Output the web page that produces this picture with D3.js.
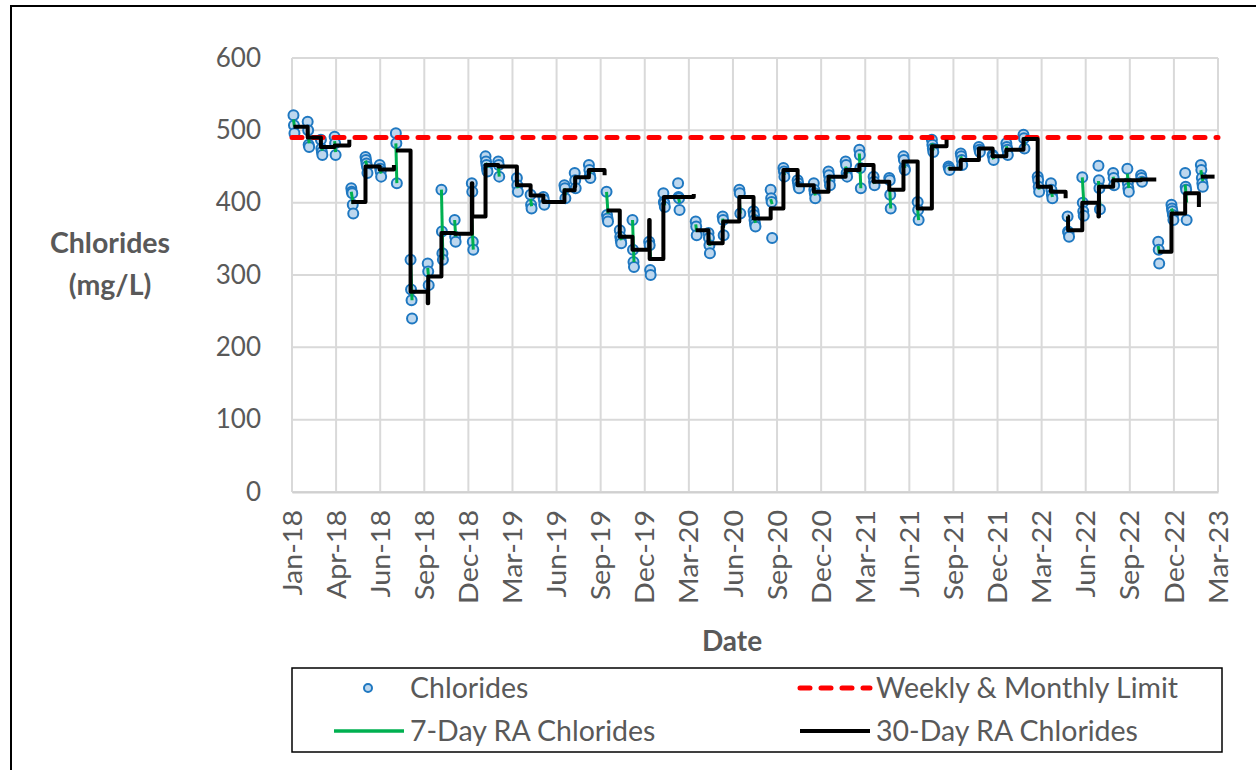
<!DOCTYPE html>
<html>
<head>
<meta charset="utf-8">
<script src="https://cdn.jsdelivr.net/npm/d3@7"></script>
<style>
  body { margin: 0; background: #fff; }
  text { font-family: Lato, "Open Sans", sans-serif; fill: #595959; }
</style>
</head>
<body>
<svg id="chart" width="1256" height="770"></svg>
<script>
// first sample date of each monthly run of samples
var sampleDates = [
  "2018-01-04","2018-02-02","2018-03-01","2018-03-29","2018-05-02","2018-05-31","2018-06-29","2018-08-01",
  "2018-08-31","2018-10-05","2018-11-02","2018-11-29","2019-01-03","2019-01-31","2019-02-26","2019-04-05",
  "2019-05-03","2019-05-29","2019-07-11","2019-08-01","2019-08-30","2019-10-05","2019-11-01","2019-11-27",
  "2019-12-31","2020-01-29","2020-02-28","2020-04-04","2020-04-30","2020-05-29","2020-07-02","2020-07-31",
  "2020-09-04","2020-09-30","2020-10-29","2020-12-01","2020-12-31","2021-02-04","2021-03-04","2021-04-02",
  "2021-05-04","2021-06-02","2021-07-01","2021-07-30","2021-09-02","2021-09-27","2021-11-03","2021-12-01",
  "2021-12-29","2022-02-02","2022-03-03","2022-03-30","2022-05-03","2022-06-02","2022-07-05","2022-08-04",
  "2022-09-02","2022-09-30","2022-11-04","2022-12-01","2022-12-29","2023-01-30"
];

// chloride samples (mg/L) in each run, one per day
var chlorides = [
  [521,507,496],[512,500,480,477],[487,475,470,466],[491,482,466],[420,415,413,397,385],
  [463,459,454,450,441],[452,447,443,436],[496,482,427],[321,280,265,240],[316,305,286],
  [418,360,330,321],[376,353,346],[427,415,346,335],[464,457,452,447,443],[457,452,436],
  [434,424,415],[411,397,392],[408,404,397],[424,420,406],[441,431,420],[452,445,438,434],
  [415,383,378,374],[362,353,348,344],[376,335,318,311],[346,341,307,300],[413,401,399,394],
  [427,408,406,390],[374,367,355],[358,351,341,330],[381,376,355],[418,413,385],
  [388,383,376,371,367],[418,406,401,351],[448,443,436],[431,427,422,420],[427,418,413,406],
  [443,438,431,424],[457,452,441,436],[473,466,448,420],[436,429,424],[434,431,411,392],
  [464,459,448,445],[401,390,376],[487,480,475,470],[450,448,445],[468,464,459,452],
  [477,473,470],[466,464,459],[482,477,473,466],[494,489,475],[436,431,422,415],
  [427,418,411,406],[381,360,358,353],[435,400,388,382],[451,431,420,391],[441,434,424],
  [447,427,420,415],[438,434,429],[346,335,316],[397,392,388,383,376],[441,422,418,376],
  [452,445,434,427,422]
];

// 7-day running average at start and end of each run
var ra7 = [
  [515,505],[500,482],[480,472],[485,470],[415,398],[458,448],[448,440],[482,427],[320,265],[310,295],
  [418,321],[376,353],[376,335],[455,448],[452,436],[430,420],[405,395],[404,400],[420,410],[435,425],
  [447,440],[415,385],[360,348],[376,318],[345,325],[405,396],[410,400],[370,360],[355,340],[378,365],
  [405,385],[385,372],[405,398],[445,438],[428,422],[420,410],[438,430],[450,440],[468,420],[432,426],
  [431,392],[458,448],[390,376],[482,472],[449,446],[464,456],[475,471],[465,460],[478,470],[490,478],
  [432,418],[420,408],[381,360],[435,400],[430,395],[436,428],[440,420],[435,431],[340,330],[392,383],
  [425,400],[445,430]
];

// 30-day running average values at each run
var ra30 = [
  [505],[490],[477],[479],[401],[450],[446],[472],[277],[261,298],
  [358],[357],[427,381],[452],[450],[424],[410],[401],[417],[422,435],
  [445],[389],[353],[335],[376,322],[399,408],[408],[362],[344],[367,374],
  [408],[378],[392],[445],[424],[415],[436],[445],[452],[429],
  [418],[457],[392],[478],[447],[459],[475],[464],[473],[488],
  [422],[415],[381,362],[400],[381,422],[431],[431],[432],[332],[385],
  [413],[436]
];

// runs after which the 30-day line stops, with its last value
var ra30Breaks = [[3,487],[6,452],[20,438],[26,412],[43,487],[51,406],[57,432],[60,394]];

var limit = 490;
var xTickLabels = ["Jan-18","Apr-18","Jun-18","Sep-18","Dec-18","Mar-19","Jun-19","Sep-19","Dec-19","Mar-20","Jun-20",
  "Sep-20","Dec-20","Mar-21","Jun-21","Sep-21","Dec-21","Mar-22","Jun-22","Sep-22","Dec-22","Mar-23"];
var yTicks = [0,100,200,300,400,500,600];

var svg = d3.select("#chart");
var parse = d3.utcParse("%Y-%m-%d");
var start = parse("2018-01-01");
var xTicks = xTickLabels.map(function(d, i) { return d3.utcDay.offset(start, 90 * i); });

var x = d3.scaleUtc().domain([start, xTicks[xTicks.length - 1]]).range([292, 1218]);
var y = d3.scaleLinear().domain([0, 600]).range([492, 58]);

// outer chart border
svg.append("rect").attr("x", 11).attr("y", 6).attr("width", 1300).attr("height", 800)
  .attr("fill", "none").attr("stroke", "#000").attr("stroke-width", 2);

// gridlines
svg.append("g").selectAll("line").data(yTicks).enter().append("line")
  .attr("x1", x.range()[0]).attr("x2", x.range()[1])
  .attr("y1", function(d) { return y(d); }).attr("y2", function(d) { return y(d); })
  .attr("stroke", "#d9d9d9").attr("stroke-width", 2);
svg.append("g").selectAll("line").data(xTicks).enter().append("line")
  .attr("x1", function(d) { return x(d); }).attr("x2", function(d) { return x(d); })
  .attr("y1", y(0)).attr("y2", y(600))
  .attr("stroke", "#d9d9d9").attr("stroke-width", 2);

// y axis labels
var yAxis = svg.append("g").attr("transform", "translate(261,0)")
  .call(d3.axisLeft(y).tickValues(yTicks).tickSize(0).tickPadding(0));
yAxis.select(".domain").remove();
yAxis.selectAll("text").attr("font-size", 26).style("font-family", "Lato").attr("fill", "#595959");

// x axis labels
var xAxis = svg.append("g").attr("transform", "translate(0," + y(0) + ")")
  .call(d3.axisBottom(x).tickValues(xTicks).tickSize(0)
    .tickFormat(function(d, i) { return xTickLabels[i]; }));
xAxis.select(".domain").attr("stroke", "#d0d0d0").attr("stroke-width", 2);
xAxis.selectAll("text").attr("font-size", 26).style("font-family", "Lato").attr("fill", "#595959")
  .attr("text-anchor", "end").attr("dy", "0.35em")
  .attr("transform", "translate(0,18) scale(1,1.1) rotate(-90)").attr("y", 0).attr("x", 0);

// axis titles
svg.append("text").attr("x", 732).attr("y", 651).attr("text-anchor", "middle")
  .attr("font-size", 28).attr("font-weight", "bold").text("Date");
var yTitle = svg.append("text").attr("text-anchor", "middle").attr("font-size", 28.5).attr("font-weight", "bold");
yTitle.append("tspan").attr("x", 110).attr("y", 253).text("Chlorides");
yTitle.append("tspan").attr("x", 110).attr("y", 295).text("(mg/L)");

// sample points
var points = [];
sampleDates.forEach(function(ds, i) {
  chlorides[i].forEach(function(v, j) {
    points.push({ date: d3.utcDay.offset(parse(ds), j), value: v });
  });
});
svg.append("g").selectAll("circle").data(points).enter().append("circle")
  .attr("cx", function(d) { return x(d.date); })
  .attr("cy", function(d) { return y(d.value); })
  .attr("r", 5)
  .attr("fill", "#bdd7ee").attr("stroke", "#1f78c1").attr("stroke-width", 2);

// weekly & monthly limit
svg.append("line").attr("x1", x.range()[0]).attr("x2", x.range()[1])
  .attr("y1", y(limit)).attr("y2", y(limit))
  .attr("stroke", "#ff0000").attr("stroke-width", 5)
  .attr("stroke-dasharray", "10,11").attr("stroke-linecap", "round");

// 7-day running average
var line = d3.line().x(function(d) { return x(d[0]); }).y(function(d) { return y(d[1]); });
svg.append("g").selectAll("path").data(sampleDates).enter().append("path")
  .attr("d", function(ds, i) {
    var d0 = parse(ds);
    return line([[d0, ra7[i][0]], [d3.utcDay.offset(d0, chlorides[i].length - 1), ra7[i][1]]]);
  })
  .attr("fill", "none").attr("stroke", "#00b050").attr("stroke-width", 3);

// 30-day running average, split where the record has a gap
var segs = [], cur = [];
sampleDates.forEach(function(ds, i) {
  var d0 = parse(ds);
  ra30[i].forEach(function(v, j) { cur.push([d3.utcDay.offset(d0, j), v]); });
  var last = cur[cur.length - 1][1];
  var br = ra30Breaks.find(function(b) { return b[0] === i; });
  if (i === sampleDates.length - 1) {
    cur.push([d3.utcDay.offset(d0, 28), last]);
    segs.push(cur);
  } else if (br) {
    var nd = parse(sampleDates[i + 1]);
    cur.push([d3.utcDay.offset(nd, -5), last]);
    cur.push([d3.utcDay.offset(nd, -4), br[1]]);
    segs.push(cur);
    cur = [];
  }
});
var stepLine = d3.line().curve(d3.curveStepAfter)
  .x(function(d) { return x(d[0]); }).y(function(d) { return y(d[1]); });
svg.append("g").selectAll("path").data(segs).enter().append("path")
  .attr("d", stepLine)
  .attr("fill", "none").attr("stroke", "#000").attr("stroke-width", 4).attr("stroke-linejoin", "round");

// legend
var lg = svg.append("g");
lg.append("rect").attr("x", 292).attr("y", 668).attr("width", 930).attr("height", 84)
  .attr("fill", "#fff").attr("stroke", "#000").attr("stroke-width", 1.5);
lg.append("circle").attr("cx", 368).attr("cy", 688).attr("r", 4)
  .attr("fill", "#bdd7ee").attr("stroke", "#1f78c1").attr("stroke-width", 2);
lg.append("line").attr("x1", 800).attr("x2", 870).attr("y1", 688).attr("y2", 688)
  .attr("stroke", "#ff0000").attr("stroke-width", 5).attr("stroke-dasharray", "10,11").attr("stroke-linecap", "round");
lg.append("line").attr("x1", 334).attr("x2", 404).attr("y1", 731).attr("y2", 731)
  .attr("stroke", "#00b050").attr("stroke-width", 3.5);
lg.append("line").attr("x1", 800).attr("x2", 870).attr("y1", 731).attr("y2", 731)
  .attr("stroke", "#000").attr("stroke-width", 4);
var legendItems = [["Chlorides", 410, 688], ["Weekly & Monthly Limit", 876, 688],
                   ["7-Day RA Chlorides", 410, 731], ["30-Day RA Chlorides", 876, 731]];
lg.selectAll("text.item").data(legendItems).enter().append("text").attr("class", "item")
  .attr("x", function(d) { return d[1]; }).attr("y", function(d) { return d[2]; })
  .attr("dy", "0.35em").attr("font-size", 28.5).text(function(d) { return d[0]; });
</script>
</body>
</html>
